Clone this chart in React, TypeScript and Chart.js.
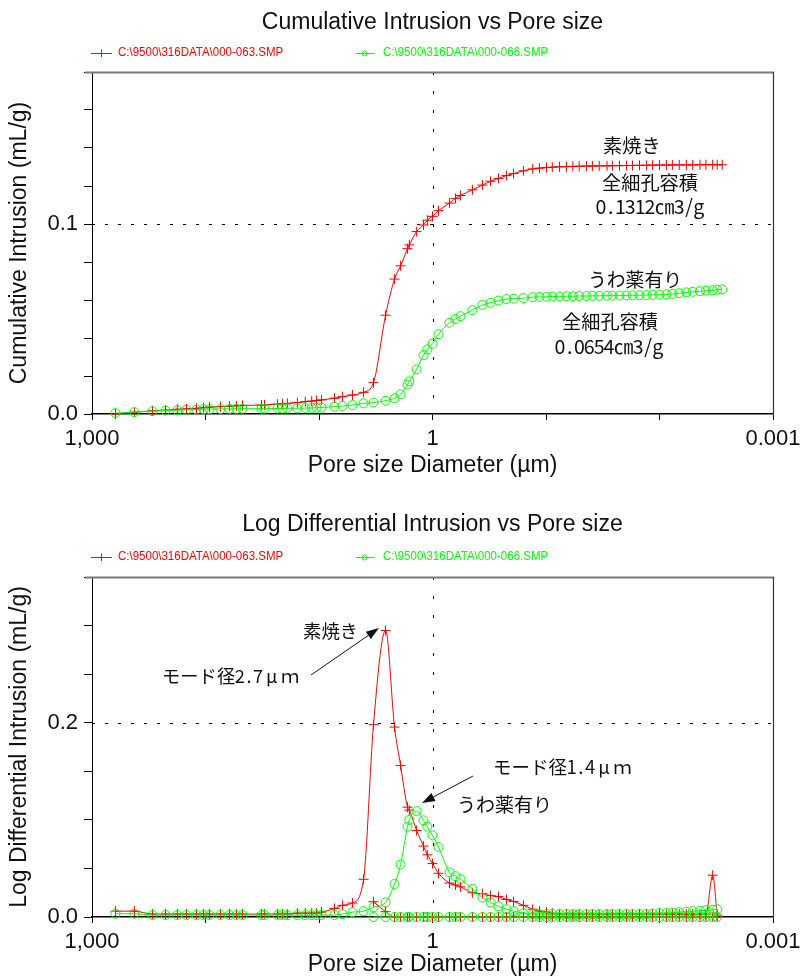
import React, { useEffect, useRef } from 'react';
import { Chart, registerables } from 'chart.js';

Chart.register(...registerables);

const FONT = '"Liberation Sans", Arial, sans-serif';
const CJK = '"Noto Sans CJK JP", sans-serif';

const RED = '#ff0000';
const GREEN = '#00ff00';

const legendRed = 'C:\\9500\\316DATA\\000-063.SMP';
const legendGreen = 'C:\\9500\\316DATA\\000-066.SMP';

// Pore diameters (µm)
const diameters = [
  621, 423, 293, 225, 177, 147, 120, 104, 92.2, 73.8,
  61.5, 53.3, 47.2, 32.1, 30.2, 23.2, 21.0, 19.0, 15.5, 13.2,
  11.6, 10.5, 9.5, 7.3, 6.2, 5.07, 4.05, 3.31, 2.59, 2.16,
  1.91, 1.66, 1.60, 1.38, 1.20, 1.11, 1.0, 0.885, 0.708, 0.627,
  0.566, 0.445, 0.363, 0.308, 0.262, 0.223, 0.193, 0.158, 0.131, 0.114,
  0.099, 0.088, 0.076, 0.066, 0.058, 0.051, 0.044, 0.039, 0.034, 0.029,
  0.026, 0.0225, 0.0195, 0.0173, 0.015, 0.013, 0.0115, 0.0100, 0.0087, 0.0077,
  0.0067, 0.0058, 0.0051, 0.0044, 0.0039, 0.0034, 0.0031, 0.0028,
];

// Cumulative intrusion (mL/g)
const cumRed = [
  0, 0.001, 0.0017, 0.002, 0.0025, 0.0027, 0.003, 0.0033, 0.0036, 0.0039,
  0.0041, 0.0043, 0.0045, 0.0047, 0.0048, 0.0052, 0.0054, 0.0056, 0.006, 0.0065,
  0.0068, 0.0071, 0.0074, 0.0083, 0.0091, 0.010, 0.0114, 0.0165, 0.052, 0.071,
  0.078, 0.087, 0.089, 0.096, 0.0995, 0.102, 0.104, 0.107, 0.111, 0.1135,
  0.115, 0.118, 0.1205, 0.1225, 0.124, 0.1255, 0.1265, 0.128, 0.129, 0.1294,
  0.1297, 0.1299, 0.1301, 0.1302, 0.1303, 0.1304, 0.1305, 0.1305, 0.1306, 0.1306,
  0.1307, 0.1307, 0.1308, 0.1308, 0.1309, 0.1309, 0.131, 0.131, 0.131, 0.1311,
  0.1311, 0.1311, 0.1311, 0.1312, 0.1312, 0.1312, 0.1312, 0.1312,
];
const cumGreen = [
  0.0005, 0.001, 0.0015, 0.0018, 0.002, 0.0022, 0.0024, 0.0025, 0.0026, 0.0026,
  0.0027, 0.0027, 0.0028, 0.0028, 0.0028, 0.0029, 0.0029, 0.003, 0.003, 0.0031,
  0.0032, 0.0033, 0.0034, 0.0039, 0.0042, 0.0047, 0.0056, 0.006, 0.007, 0.0083,
  0.0104, 0.0155, 0.0172, 0.0235, 0.031, 0.034, 0.037, 0.042, 0.048, 0.050,
  0.0515, 0.0547, 0.0574, 0.0585, 0.0597, 0.0605, 0.0607, 0.061, 0.0615, 0.0616,
  0.0617, 0.0618, 0.0619, 0.062, 0.062, 0.0621, 0.0621, 0.0622, 0.0622, 0.0623,
  0.0623, 0.0624, 0.0624, 0.0625, 0.0625, 0.0626, 0.0627, 0.0628, 0.063, 0.0632,
  0.0636, 0.064, 0.0643, 0.0646, 0.0649, 0.0651, 0.0654, 0.0656,
];

// Log differential intrusion (mL/g)
const diffRed = [
  0.006, 0.006, 0.003, 0.003, 0.003, 0.003, 0.003, 0.003, 0.003, 0.003,
  0.003, 0.003, 0.003, 0.003, 0.003, 0.003, 0.003, 0.003, 0.004, 0.004,
  0.004, 0.004, 0.005, 0.0087, 0.012, 0.0144, 0.0388, 0.198, 0.295, 0.1955,
  0.156, 0.113, 0.110, 0.089, 0.073, 0.064, 0.055, 0.045, 0.035, 0.033,
  0.031, 0.025, 0.024, 0.022, 0.021, 0.018, 0.016, 0.012, 0.008, 0.006,
  0.005, 0.004, 0.003, 0.003, 0.003, 0.003, 0.003, 0.003, 0.003, 0.003,
  0.003, 0.003, 0.003, 0.003, 0.003, 0.003, 0.003, 0.003, 0.003, 0.003,
  0.003, 0.003, 0.003, 0.003, 0.003, 0.043, 0.002, null,
];
const diffGreen = [
  0.0034, 0.0034, 0.002, 0.002, 0.002, 0.002, 0.002, 0.002, 0.002, 0.002,
  0.002, 0.002, 0.002, 0.002, 0.002, 0.002, 0.002, 0.002, 0.002, 0.002,
  0.002, 0.002, 0.002, 0.002, 0.003, 0.005, 0.006, 0.010, 0.015, 0.034,
  0.054, 0.093, 0.100, 0.109, 0.0995, 0.093, 0.084, 0.072, 0.046, 0.042,
  0.039, 0.029, 0.020, 0.015, 0.011, 0.008, 0.006, 0.004, 0.003, 0.003,
  0.003, 0.003, 0.003, 0.003, 0.003, 0.003, 0.003, 0.003, 0.003, 0.003,
  0.003, 0.003, 0.003, 0.003, 0.003, 0.003, 0.0035, 0.004, 0.004, 0.0045,
  0.005, 0.0055, 0.006, 0.0065, 0.007, 0.0075, 0.008, null,
];
const diffRedTail = [
  null, null, null, null, null, null, null, null, null, null,
  null, null, null, null, null, null, null, null, null, null,
  null, null, null, null, null, null, null, 0.0157, 0.0055, 0,
  0, 0, 0, 0, 0, 0, 0, 0, 0, 0,
  0, 0, 0, 0, 0, 0, 0, 0, 0, 0,
  0, 0, 0, 0, 0, 0, 0, 0, 0, 0,
  0, 0, 0, 0, 0, 0, 0, 0, 0, 0,
  0, 0, 0, 0, 0, 0, 0, null,
];
const diffGreenTail = [
  null, null, null, null, null, null, null, null, null, null,
  null, null, null, null, null, null, null, null, null, null,
  null, null, null, null, null, null, null, 0, 0, 0,
  0, 0, 0, 0, 0, 0, 0, 0, 0, 0,
  0, 0, 0, 0, 0, 0, 0, 0, 0, 0,
  0, 0, 0, 0, 0, 0, 0, 0, 0, 0,
  0, 0, 0, 0, 0, 0, 0, 0, 0, 0,
  0, 0, 0, 0, 0, 0, 0, null,
];

const xTickValues = [1000, 100, 10, 1, 0.1, 0.01, 0.001];
const xTickLabels: Record<string, string> = { '1000': '1,000', '1': '1', '0.001': '0.001' };

type Ann = { t: string; x: number; y: number; c: number };
type Arr = { x1: number; y1: number; x2: number; y2: number };

function pts(vals: (number | null)[]) {
  const out: { x: number; y: number }[] = [];
  vals.forEach((v, i) => {
    if (v !== null && v !== undefined) out.push({ x: diameters[i], y: v });
  });
  return out;
}

function drawCells(ctx: CanvasRenderingContext2D, text: string, x0: number, cy: number, cell: number) {
  ctx.font = `${cell * 2}px ${CJK}`;
  ctx.textAlign = 'center';
  ctx.textBaseline = 'middle';
  ctx.fillStyle = '#111';
  let acc = 0;
  for (const ch of Array.from(text)) {
    const w = ch.charCodeAt(0) < 0x80 ? 1 : 2;
    ctx.fillText(ch, x0 + (acc + w / 2) * cell, cy);
    acc += w;
  }
}

function drawArrow(ctx: CanvasRenderingContext2D, a: Arr) {
  const ang = Math.atan2(a.y2 - a.y1, a.x2 - a.x1);
  const L = 13, W = 4.5;
  const bx = a.x2 - L * Math.cos(ang);
  const by = a.y2 - L * Math.sin(ang);
  ctx.strokeStyle = '#111';
  ctx.fillStyle = '#111';
  ctx.lineWidth = 1;
  ctx.setLineDash([]);
  ctx.beginPath();
  ctx.moveTo(a.x1, a.y1);
  ctx.lineTo(bx, by);
  ctx.stroke();
  ctx.beginPath();
  ctx.moveTo(a.x2, a.y2);
  ctx.lineTo(bx + W * Math.sin(ang), by - W * Math.cos(ang));
  ctx.lineTo(bx - W * Math.sin(ang), by + W * Math.cos(ang));
  ctx.closePath();
  ctx.fill();
}

function makeDecor(cfg: { title: string; titleY: number; legendY: number; hLine: number; anns: Ann[]; arrows: Arr[] }) {
  return {
    id: 'decor',
    beforeDatasetsDraw(chart: any) {
      const { ctx, chartArea: a, scales } = chart;
      ctx.save();
      ctx.strokeStyle = '#000';
      ctx.lineWidth = 1;
      ctx.setLineDash([3, 10]);
      const y = Math.round(scales.y.getPixelForValue(cfg.hLine)) + 0.5;
      ctx.beginPath();
      ctx.moveTo(a.left, y);
      ctx.lineTo(a.right, y);
      ctx.stroke();
      ctx.setLineDash([3, 16]);
      const x = Math.round(scales.x.getPixelForValue(1)) + 0.5;
      ctx.beginPath();
      ctx.moveTo(x, a.top);
      ctx.lineTo(x, a.bottom);
      ctx.stroke();
      ctx.restore();
    },
    afterDraw(chart: any) {
      const { ctx, chartArea: a } = chart;
      ctx.save();
      // frame
      ctx.setLineDash([]);
      ctx.strokeStyle = '#7a7a7a';
      ctx.lineWidth = 2;
      ctx.beginPath();
      ctx.moveTo(a.left - 7, a.top + 0.5);
      ctx.lineTo(a.right + 1, a.top + 0.5);
      ctx.stroke();
      ctx.strokeStyle = '#333';
      ctx.lineWidth = 1.2;
      ctx.beginPath();
      ctx.moveTo(a.right + 0.5, a.top);
      ctx.lineTo(a.right + 0.5, a.bottom);
      ctx.stroke();

      // title
      ctx.fillStyle = '#111';
      ctx.font = `23px ${FONT}`;
      ctx.textAlign = 'center';
      ctx.textBaseline = 'middle';
      ctx.fillText(cfg.title, (a.left + a.right) / 2, cfg.titleY);

      // legend
      const ly = cfg.legendY;
      ctx.lineWidth = 1;
      ctx.strokeStyle = RED;
      ctx.beginPath();
      ctx.moveTo(a.left - 1, ly + 0.5);
      ctx.lineTo(a.left + 20, ly + 0.5);
      ctx.moveTo(a.left + 9.5, ly - 3.5);
      ctx.lineTo(a.left + 9.5, ly + 4);
      ctx.moveTo(a.left + 7, ly + 0.5);
      ctx.lineTo(a.left + 12, ly + 0.5);
      ctx.stroke();
      ctx.strokeStyle = GREEN;
      ctx.beginPath();
      ctx.moveTo(a.left + 264, ly + 0.5);
      ctx.lineTo(a.left + 283, ly + 0.5);
      ctx.stroke();
      ctx.beginPath();
      ctx.arc(a.left + 272.5, ly + 0.5, 2.5, 0, Math.PI * 2);
      ctx.stroke();
      ctx.font = `12.5px ${FONT}`;
      ctx.textAlign = 'left';
      ctx.textBaseline = 'middle';
      ctx.save();
      ctx.translate(a.left + 26, ly);
      ctx.scale(0.92, 1);
      ctx.fillStyle = RED;
      ctx.fillText(legendRed, 0, 0);
      ctx.restore();
      ctx.save();
      ctx.translate(a.left + 291, ly);
      ctx.scale(0.92, 1);
      ctx.fillStyle = GREEN;
      ctx.fillText(legendGreen, 0, 0);
      ctx.restore();

      // annotations
      cfg.anns.forEach((n) => drawCells(ctx, n.t, n.x, n.y, n.c));
      cfg.arrows.forEach((r) => drawArrow(ctx, r));
      ctx.restore();
    },
  };
}

function makeChart(
  canvas: HTMLCanvasElement,
  opts: {
    red: (number | null)[];
    green: (number | null)[];
    redTail?: (number | null)[];
    greenTail?: (number | null)[];
    yMax: number;
    yStep: number;
    yLabels: Record<string, string>;
    yTitle: string;
    padTop: number;
    padBottom: number;
    xHeight: number;
    decor: any;
  }
) {
  const redStyle = {
    borderColor: RED,
    borderWidth: 1,
    pointStyle: 'cross',
    pointRadius: 5,
    pointBorderColor: RED,
    pointBorderWidth: 1,
    fill: false,
    cubicInterpolationMode: 'monotone',
    clip: false,
  };
  const greenStyle = {
    borderColor: GREEN,
    borderWidth: 1,
    pointStyle: 'circle',
    pointRadius: 4.5,
    pointBorderColor: GREEN,
    pointBackgroundColor: 'rgba(0,0,0,0)',
    pointBorderWidth: 1,
    fill: false,
    cubicInterpolationMode: 'monotone',
    clip: false,
  };
  const datasets: any[] = [];
  if (opts.greenTail) datasets.push({ label: 'gt', data: pts(opts.greenTail), ...greenStyle });
  if (opts.redTail) datasets.push({ label: 'rt', data: pts(opts.redTail), ...redStyle });
  datasets.push({ label: legendGreen, data: pts(opts.green), ...greenStyle });
  datasets.push({ label: legendRed, data: pts(opts.red), ...redStyle });

  return new Chart(canvas, {
    type: 'line',
    data: { datasets },
    options: {
      responsive: false,
      animation: false,
      devicePixelRatio: 1,
      layout: { padding: { left: 0, right: 28, top: opts.padTop, bottom: opts.padBottom } },
      plugins: { legend: { display: false }, title: { display: false }, tooltip: { enabled: false } },
      scales: {
        x: {
          type: 'logarithmic',
          position: 'bottom',
          min: 0.001,
          max: 1000,
          reverse: true,
          afterBuildTicks: (s: any) => {
            s.ticks = xTickValues.map((v) => ({ value: v }));
          },
          afterFit: (s: any) => {
            s.height = opts.xHeight;
            s.paddingLeft = 0;
            s.paddingRight = 0;
          },
          ticks: {
            autoSkip: false,
            maxRotation: 0,
            minRotation: 0,
            padding: 6,
            color: '#111',
            font: { family: FONT, size: 22 },
            callback: (v: any) => xTickLabels[String(v)] ?? '',
          },
          grid: { display: true, drawOnChartArea: false, drawTicks: true, tickLength: 6, color: '#000' },
          border: { display: true, color: '#000', width: 1.5 },
          title: {
            display: true,
            text: 'Pore size Diameter (\u00B5m)',
            color: '#111',
            font: { family: FONT, size: 23 },
            padding: { top: 0, bottom: 0 },
          },
        },
        y: {
          type: 'linear',
          position: 'left',
          min: 0,
          max: opts.yMax,
          afterFit: (s: any) => {
            s.width = 92;
            s.paddingTop = 0;
            s.paddingBottom = 0;
          },
          ticks: {
            stepSize: opts.yStep,
            padding: 6,
            color: '#111',
            font: { family: FONT, size: 22 },
            callback: (v: any) => {
              const key = Object.keys(opts.yLabels).find((k) => Math.abs(Number(k) - Number(v)) < 1e-9);
              return key !== undefined ? opts.yLabels[key] : '';
            },
          },
          grid: { display: true, drawOnChartArea: false, drawTicks: true, tickLength: 8, color: '#000' },
          border: { display: true, color: '#000', width: 1 },
          title: {
            display: true,
            text: opts.yTitle,
            color: '#111',
            font: { family: FONT, size: 23 },
            padding: { top: 6, bottom: 0 },
          },
        },
      },
    } as any,
    plugins: [opts.decor],
  });
}

export default function App() {
  const topRef = useRef<HTMLCanvasElement>(null);
  const botRef = useRef<HTMLCanvasElement>(null);

  useEffect(() => {
    const top = makeChart(topRef.current!, {
      red: cumRed,
      green: cumGreen,
      yMax: 0.18,
      yStep: 0.02,
      yLabels: { '0': '0.0', '0.1': '0.1' },
      yTitle: 'Cumulative Intrusion (mL/g)',
      padTop: 72,
      padBottom: 9,
      xHeight: 65,
      decor: makeDecor({
        title: 'Cumulative Intrusion vs Pore size',
        titleY: 23,
        legendY: 53,
        hLine: 0.1,
        anns: [
          { t: '素焼き', x: 603, y: 146, c: 9.6 },
          { t: '全細孔容積', x: 602, y: 183, c: 9.6 },
          { t: '0.1312㎝3/g', x: 596, y: 207, c: 9.8 },
          { t: 'うわ薬有り', x: 588, y: 280, c: 9.4 },
          { t: '全細孔容積', x: 562, y: 322, c: 9.6 },
          { t: '0.0654㎝3/g', x: 555, y: 347, c: 9.8 },
        ],
        arrows: [],
      }),
    });
    const bot = makeChart(botRef.current!, {
      red: diffRed,
      green: diffGreen,
      redTail: diffRedTail,
      greenTail: diffGreenTail,
      yMax: 0.35,
      yStep: 0.05,
      yLabels: { '0': '0.0', '0.2': '0.2' },
      yTitle: 'Log Differential Intrusion (mL/g)',
      padTop: 89,
      padBottom: 0,
      xHeight: 61,
      decor: makeDecor({
        title: 'Log Differential Intrusion vs Pore size',
        titleY: 37,
        legendY: 69,
        hLine: 0.2,
        anns: [
          { t: '素焼き', x: 303, y: 143, c: 9.2 },
          { t: 'モード径2.7μｍ', x: 162, y: 188, c: 9.15 },
          { t: 'モード径1.4μｍ', x: 493, y: 279, c: 9.25 },
          { t: 'うわ薬有り', x: 457, y: 317, c: 9.5 },
        ],
        arrows: [
          { x1: 311, y1: 187, x2: 379, y2: 140 },
          { x1: 473, y1: 288, x2: 422, y2: 315 },
        ],
      }),
    });
    return () => {
      top.destroy();
      bot.destroy();
    };
  }, []);

  return (
    <div style={{ position: 'absolute', left: 0, top: 0, width: 801, height: 978, background: '#fff', overflow: 'hidden' }}>
      <canvas ref={topRef} width={801} height={488} style={{ position: 'absolute', left: 0, top: 0 }} />
      <canvas ref={botRef} width={801} height={490} style={{ position: 'absolute', left: 0, top: 488 }} />
    </div>
  );
}
